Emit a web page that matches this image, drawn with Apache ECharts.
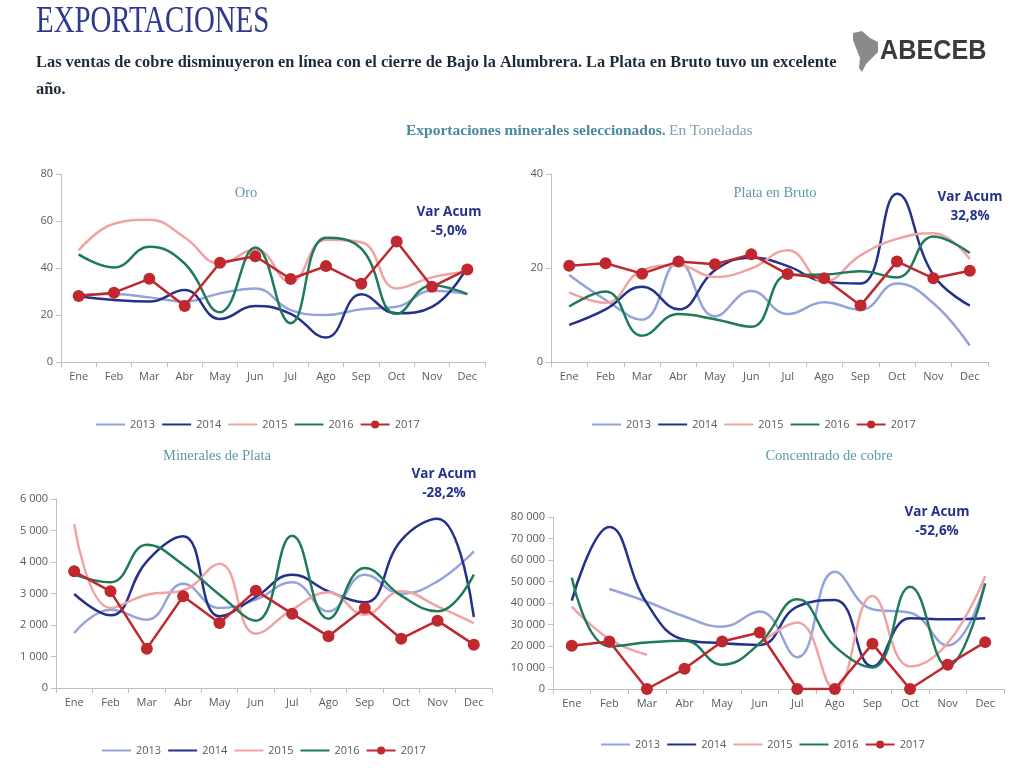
<!DOCTYPE html>
<html><head><meta charset="utf-8">
<script src="https://cdn.jsdelivr.net/npm/echarts@6/dist/echarts.min.js"></script>
<style>html,body{margin:0;padding:0;background:#fff}#c{width:1024px;height:768px}</style>
</head><body><div id="c"></div>
<script>
const months = ['Ene','Feb','Mar','Abr','May','Jun','Jul','Ago','Sep','Oct','Nov','Dec'];
const years = ['2013','2014','2015','2016','2017'];

// Oro
const oro2013 = [28.5,28.9,27.5,25.7,29.2,31.3,22.1,20,22.4,23.5,30.3,28.9];
const oro2014 = [28,26.4,25.7,30.6,18.3,23.8,20.5,10.4,28.8,20.7,23.5,40.5];
const oro2015 = [47.5,58.8,60.5,53,41.9,48,34,52,51,31.3,36,38.5];
const oro2016 = [45.8,40.2,49,41.9,21.2,48.7,16.5,52.9,48.2,20.5,32.7,28.9];
const oro2017 = [28.1,29.5,35.4,23.8,42.2,45,35.3,40.8,33.3,51.3,32,39.4];

// Plata en Bruto
const pb2013 = [18.5,13.2,9,21.3,9.7,15.1,10.2,12.7,11.1,16.7,12.5,3.5];
const pb2014 = [7.9,11.2,16,11.2,19.5,22.2,20.4,17.1,16.7,35.8,18.5,12];
const pb2015 = [14.8,12.6,19.5,20.6,18.1,19.9,23.8,17.1,22.7,26.2,27.4,21.9];
const pb2016 = [11.8,15,5.6,10.2,9.1,7.5,18.5,18.6,19.3,18,26.7,23.2];
const pb2017 = [20.5,21,18.8,21.4,20.8,22.9,18.7,17.8,12,21.4,17.8,19.4];

// Minerales de Plata
const mp2013 = [1746,2487,2169,3312,2540,2804,3354,2434,3598,2995,3386,4339];
const mp2014 = [2984,2307,4021,4815,2275,2889,3598,3069,2720,4688,5376,2254];
const mp2015 = [5206,2540,2963,3100,3947,1725,2487,3037,2328,3069,2593,2063];
const mp2016 = [3598,3354,4550,3915,2963,2138,4836,2201,3810,2931,2434,3598];
const mp2017 = [3704,3069,1249,2910,2063,3090,2360,1640,2540,1566,2138,1376];

// Concentrado de cobre
const cc2013 = [null,46500,40600,33700,29000,36000,14800,54500,37100,35500,20200,49100];
const cc2014 = [41100,75400,39800,22900,21300,20500,38300,41400,10500,32900,32400,32900];
const cc2015 = [38300,23200,15900,null,null,21000,30900,0,43200,10500,21300,52500];
const cc2016 = [51700,19800,21600,22500,11300,21300,41700,19800,10000,47600,10500,49100];
const cc2017 = [20100,22100,0,9400,22100,26300,0,0,21000,0,11300,21800];

const yTicks = {oro:[0,80,20], pb:[0,40,20], mp:[0,6000,1000], cc:[0,80000,10000]};

const colors = ['#95a3dc','#23318a','#f0a3a3','#1f7a5a','#bf282e'];
const fmt = v => String(v).replace(/\B(?=(\d{3})+(?!\d))/g, ' ');

const chart = echarts.init(document.getElementById('c'));
const grids = [
  {left:61, right:539, top:174, bottom:406},
  {left:551, right:36, top:174, bottom:406},
  {left:56, right:532, top:499, bottom:80},
  {left:553, right:20, top:517, bottom:79}
];
const ranges = [yTicks.oro, yTicks.pb, yTicks.mp, yTicks.cc];
const dataSets = [
  [oro2013,oro2014,oro2015,oro2016,oro2017],
  [pb2013,pb2014,pb2015,pb2016,pb2017],
  [mp2013,mp2014,mp2015,mp2016,mp2017],
  [cc2013,cc2014,cc2015,cc2016,cc2017]
];
const axisColor = '#bfbfbf';
const labelColor = '#595959';
const xAxis = grids.map((g,i)=>({
  type:'category', gridIndex:i, data:months, boundaryGap:true,
  axisLine:{lineStyle:{color:axisColor}},
  axisTick:{show:true, lineStyle:{color:axisColor}, length:5},
  axisLabel:{color:labelColor, fontSize:11, fontFamily:'Open Sans', margin:9}
}));
const yAxis = grids.map((g,i)=>({
  type:'value', gridIndex:i, min:ranges[i][0], max:ranges[i][1], interval:ranges[i][2],
  axisLine:{show:true, lineStyle:{color:axisColor}},
  axisTick:{show:true, lineStyle:{color:axisColor}, length:5},
  splitLine:{show:false},
  axisLabel:{color:labelColor, fontSize:11, fontFamily:'Open Sans', margin:8, formatter:fmt}
}));
const series = [];
dataSets.forEach((ds,gi)=>{
  ds.forEach((d,yi)=>{
    const isLast = yi===4;
    series.push({
      name: years[yi], type:'line', xAxisIndex:gi, yAxisIndex:gi, data:d,
      smooth: isLast ? false : 0.45,
      showSymbol: isLast, symbol: isLast ? 'circle' : 'none', symbolSize: 12,
      connectNulls:false,
      lineStyle:{width:2.5, color:colors[yi]},
      itemStyle:{color:colors[yi]},
      z: isLast?5:2, animation:false
    });
  });
});
const legendData = years.map((y,i)=> i<4 ? {name:y, itemStyle:{opacity:0, borderWidth:0}} : {name:y});
const legendPos = [[90,414],[586,414],[96,740],[595,734]];
const legend = legendPos.map(p=>({
  left:p[0], top:p[1], data:legendData, itemWidth:29, itemHeight:10, itemGap:6,
  textStyle:{color:labelColor, fontSize:11, fontFamily:'Open Sans'}, selectedMode:false
}));

const tealTitle = {fontFamily:'Liberation Serif', fontSize:14.5, fill:'#5b99a8'};
const varStyle = {fontFamily:'Open Sans', fontSize:13.5, fontWeight:'bold', fill:'#23318a', align:'center'};
function varAcum(x,y,pct){
  return [
    {type:'text', x:x, y:y, style:Object.assign({text:'Var Acum', verticalAlign:'middle'}, varStyle)},
    {type:'text', x:x, y:y+19, style:Object.assign({text:pct, verticalAlign:'middle'}, varStyle)}
  ];
}
const graphic = [
  {type:'text', x:36, y:4, scaleX:0.78, style:{text:'EXPORTACIONES', fontFamily:'Liberation Serif', fontSize:37, fill:'#2e3a8f'}},
  {type:'text', x:36, y:55, style:{text:'Las ventas de cobre disminuyeron en línea con el cierre de Bajo la Alumbrera. La Plata en Bruto tuvo un excelente', fontFamily:'Liberation Serif', fontWeight:'bold', fontSize:16.4, fill:'#1c2a3e'}},
  {type:'text', x:36, y:82, style:{text:'año.', fontFamily:'Liberation Serif', fontWeight:'bold', fontSize:16.4, fill:'#1c2a3e'}},
  {type:'text', x:406, y:123, style:{text:'{b|Exportaciones minerales seleccionados.} {n|En Toneladas}', rich:{
    b:{fontFamily:'Liberation Serif', fontWeight:'bold', fontSize:15.5, fill:'#4a8a9c', color:'#4a8a9c'},
    n:{fontFamily:'Liberation Serif', fontSize:15.5, fill:'#7ea3ae', color:'#7ea3ae'}}}},
  {type:'text', x:246, y:193, style:Object.assign({text:'Oro', align:'center', verticalAlign:'middle'}, tealTitle)},
  {type:'text', x:775, y:193, style:Object.assign({text:'Plata en Bruto', align:'center', verticalAlign:'middle'}, tealTitle)},
  {type:'text', x:217, y:456, style:Object.assign({text:'Minerales de Plata', align:'center', verticalAlign:'middle'}, tealTitle)},
  {type:'text', x:829, y:456, style:Object.assign({text:'Concentrado de cobre', align:'center', verticalAlign:'middle'}, tealTitle)},
  ...varAcum(449,212,'-5,0%'),
  ...varAcum(970,197,'32,8%'),
  ...varAcum(444,474,'-28,2%'),
  ...varAcum(937,512,'-52,6%'),
  {type:'polygon', shape:{points:[[853,33],[862,31],[870,38],[878,42],[878,52],[872,58],[866,64],[862,72],[859,68],[860,58],[856,48],[853,40]]}, style:{fill:'#8a8a8a'}},
  {type:'text', x:880, y:51, scaleX:0.9, style:{text:'ABECEB', fontFamily:'Liberation Sans', fontWeight:'bold', fontSize:28, fill:'#3a3a3a', verticalAlign:'middle'}}
];

chart.setOption({
  animation:false,
  grid:grids, xAxis:xAxis, yAxis:yAxis, series:series, legend:legend, graphic:graphic
});
</script></body></html>
